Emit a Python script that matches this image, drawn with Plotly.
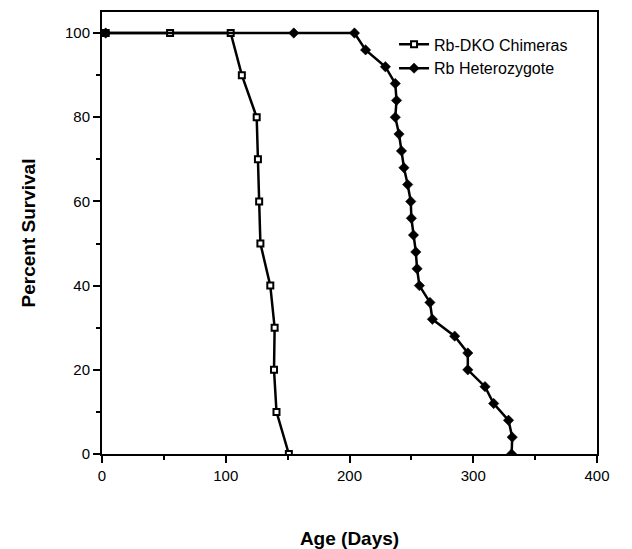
import plotly.graph_objects as go

# Rb-DKO Chimeras
chim_age = [3, 55, 104, 113, 125, 126, 127, 128, 136, 139.5, 139, 141, 151]
chim_surv = [100, 100, 100, 90, 80, 70, 60, 50, 40, 30, 20, 10, 0]

# Rb Heterozygote
het_age = [3, 155, 204, 213, 229, 237, 238, 237, 240, 242, 244, 247, 249.5, 250,
           251.7, 253.6, 254.6, 256.5, 265, 267, 285, 295.6, 295.6, 309.5, 316.5,
           328.5, 331.5, 331]
het_surv = [100, 100, 100, 96, 92, 88, 84, 80, 76, 72, 68, 64, 60, 56,
            52, 48, 44, 40, 36, 32, 28, 24, 20, 16, 12, 8, 4, 0]

x_ticks = [0, 100, 200, 300, 400]
y_ticks = [0, 20, 40, 60, 80, 100]

FONT = "Liberation Sans, Arial, Helvetica, sans-serif"

fig = go.Figure()
fig.add_trace(go.Scatter(
    x=chim_age, y=chim_surv, mode="lines+markers", name="Rb-DKO Chimeras",
    line=dict(color="black", width=2.5),
    marker=dict(symbol="square", size=6, color="white",
                line=dict(color="black", width=2)),
))
fig.add_trace(go.Scatter(
    x=het_age, y=het_surv, mode="lines+markers", name="Rb Heterozygote",
    line=dict(color="black", width=2.5),
    marker=dict(symbol="diamond", size=8, color="black",
                line=dict(color="black", width=0.5)),
))

fig.update_layout(
    width=624, height=541,
    margin=dict(l=94, r=35, t=2, b=92),
    paper_bgcolor="white", plot_bgcolor="white",
    font=dict(family=FONT, size=15, color="black"),
    showlegend=True,
    legend=dict(x=0.59, y=0.965, xanchor="left", yanchor="top",
                bgcolor="rgba(0,0,0,0)", itemwidth=30,
                font=dict(family=FONT, size=16, color="black"),
                tracegroupgap=0),
    xaxis=dict(
        range=[0, 400], tickvals=x_ticks, ticktext=[str(v) for v in x_ticks],
        showgrid=False, zeroline=False,
        showline=True, linecolor="black", linewidth=2, mirror=True,
        ticks="outside", ticklen=7, tickwidth=2, tickcolor="black",
        minor=dict(dtick=50, tick0=0, ticks="outside", ticklen=4, tickwidth=1.5, tickcolor="black"),
        tickfont=dict(family=FONT, size=15),
        title=dict(text="<b>Age (Days)</b>", font=dict(family=FONT, size=19), standoff=50),
    ),
    yaxis=dict(
        range=[0, 105], tickvals=y_ticks, ticktext=[str(v) for v in y_ticks],
        showgrid=False, zeroline=False,
        showline=True, linecolor="black", linewidth=2, mirror=True,
        ticks="outside", ticklen=7, tickwidth=2, tickcolor="black",
        minor=dict(dtick=10, tick0=0, ticks="outside", ticklen=4, tickwidth=1.5, tickcolor="black"),
        tickfont=dict(family=FONT, size=15),
        title=dict(text="<b>Percent Survival</b>", font=dict(family=FONT, size=19), standoff=24),
    ),
)

fig.write_html("out.html")
